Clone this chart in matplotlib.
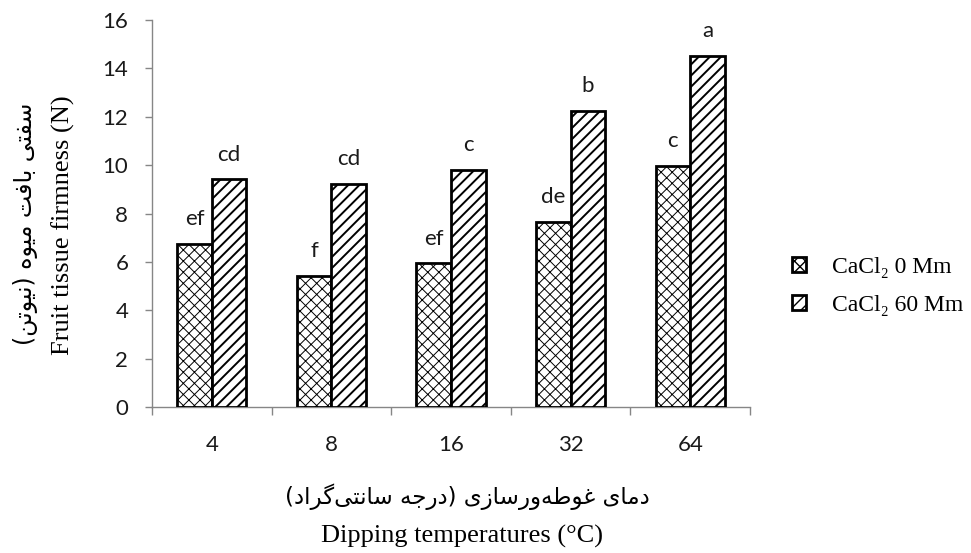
import numpy as np
import matplotlib
matplotlib.use("Agg")
import matplotlib.pyplot as plt
from matplotlib import font_manager
from matplotlib.ft2font import FT2Font


# Data.
temps = ["4", "8", "16", "32", "64"]
firm_0 = [6.73, 5.43, 5.94, 7.66, 9.96]
firm_60 = [9.41, 9.22, 9.80, 12.25, 14.52]
let_0 = ["ef", "f", "ef", "de", "c"]
let_60 = ["cd", "cd", "c", "b", "a"]
series_names = ["CaCl\u2082 0 Mm", "CaCl\u2082 60 Mm"]
ylabel_fa = "سفتی بافت میوه (نیوتن)"
ylabel_en = "Fruit tissue firmness (N)"
xlabel_fa = "دمای غوطه\u200cورسازی (درجه سانتی\u200cگراد)"
xlabel_en = "Dipping temperatures (\u00b0C)"


# Small Persian shaper: matplotlib has no Arabic shaping / bidi.
# forms: isolated, final, initial, medial (None = right-joining only)
FORMS = {
    "ا": ("\uFE8D", "\uFE8E", None, None),
    "ب": ("\uFE8F", "\uFE90", "\uFE91", "\uFE92"),
    "ت": ("\uFE95", "\uFE96", "\uFE97", "\uFE98"),
    "ج": ("\uFE9D", "\uFE9E", "\uFE9F", "\uFEA0"),
    "د": ("\uFEA9", "\uFEAA", None, None),
    "ر": ("\uFEAD", "\uFEAE", None, None),
    "ز": ("\uFEAF", "\uFEB0", None, None),
    "س": ("\uFEB1", "\uFEB2", "\uFEB3", "\uFEB4"),
    "ط": ("\uFEC1", "\uFEC2", "\uFEC3", "\uFEC4"),
    "غ": ("\uFECD", "\uFECE", "\uFECF", "\uFED0"),
    "ف": ("\uFED1", "\uFED2", "\uFED3", "\uFED4"),
    "م": ("\uFEE1", "\uFEE2", "\uFEE3", "\uFEE4"),
    "ن": ("\uFEE5", "\uFEE6", "\uFEE7", "\uFEE8"),
    "ه": ("\uFEE9", "\uFEEA", "\uFEEB", "\uFEEC"),
    "و": ("\uFEED", "\uFEEE", None, None),
    "ی": ("\uFBFC", "\uFBFD", "\uFBFE", "\uFBFF"),
    "گ": ("\uFB92", "\uFB93", "\uFB94", "\uFB95"),
}
FALLBACK = {"\uFBFC": "\uFEEF", "\uFBFD": "\uFEF0", "\uFBFE": "\uFEF3", "\uFBFF": "\uFEF4"}

fa_font = "DejaVu Sans"
cmap = FT2Font(font_manager.findfont(fa_font)).get_charmap()


def shape_fa(s):
    out = []
    for i, ch in enumerate(s):
        if ch not in FORMS:
            if ch != "\u200c":
                out.append(ch)
            continue
        prev = s[i - 1] if i > 0 else ""
        nxt = s[i + 1] if i + 1 < len(s) else ""
        dual = FORMS[ch][2] is not None
        jp = prev in FORMS and FORMS[prev][2] is not None
        jn = dual and nxt in FORMS
        if jp and jn:
            g = FORMS[ch][3]
        elif jp:
            g = FORMS[ch][1]
        elif jn:
            g = FORMS[ch][2]
        else:
            g = FORMS[ch][0]
        if ord(g) not in cmap and g in FALLBACK:
            g = FALLBACK[g]
        out.append(g)
    vis = "".join(reversed(out))
    return vis.replace("(", "\0").replace(")", "(").replace("\0", ")")


tick_font = "Lato"
serif = ["Liberation Serif", "DejaVu Serif"]
gray = "#868686"
txt = "#1a1a1a"

fig = plt.figure(figsize=(9.71, 5.53), dpi=100)
ax = fig.add_axes([0.1565, 0.264, 0.6159, 0.6998])

x = np.arange(len(temps))
w = 0.29
with plt.rc_context({"hatch.linewidth": 0.7}):
    b0 = ax.bar(x - w / 2, firm_0, w, color="white", edgecolor="black",
                linewidth=2, hatch="xxx", label=series_names[0], zorder=3)
with plt.rc_context({"hatch.linewidth": 1.4}):
    b1 = ax.bar(x + w / 2, firm_60, w, color="white", edgecolor="black",
                linewidth=2, hatch="///", label=series_names[1], zorder=3)
for bars, lw in ((b0, 0.7), (b1, 1.4)):
    for p in bars:
        if hasattr(p, "set_hatch_linewidth"):
            p.set_hatch_linewidth(lw)

for xs, vals, lets in ((x - w / 2, firm_0, let_0), (x + w / 2, firm_60, let_60)):
    for xi, v, t in zip(xs, vals, lets):
        ax.annotate(t, (xi, v), xytext=(0, 13.5), textcoords="offset points",
                    ha="center", va="baseline", fontsize=16,
                    family=tick_font, color=txt)

ax.set_xlim(-0.5, len(temps) - 0.5)
ax.set_ylim(0, 16)
ax.set_yticks(np.arange(0, 17, 2))
ax.set_yticklabels([str(v) for v in range(0, 17, 2)], fontsize=16,
                   family=tick_font, color=txt)
ax.tick_params(axis="y", length=5, width=1, color=gray, pad=12)

ax.set_xticks(np.arange(-0.5, len(temps), 1.0))
ax.set_xticklabels([])
ax.tick_params(axis="x", which="major", length=6, width=1, color=gray)
ax.set_xticks(x, minor=True)
ax.set_xticklabels(temps, minor=True, fontsize=16, family=tick_font, color=txt)
ax.tick_params(axis="x", which="minor", length=0, pad=20)

for s in ("top", "right"):
    ax.spines[s].set_visible(False)
for s in ("left", "bottom"):
    ax.spines[s].set_color(gray)
    ax.spines[s].set_linewidth(1)

fig.legend(handles=[b0, b1], loc="center left",
           bbox_to_anchor=(792 / 971, 1 - 286.5 / 553), frameon=False,
           prop={"family": serif, "size": 17}, handlelength=0.6,
           handleheight=0.6, handletextpad=1.1, labelspacing=0.7,
           borderpad=0, borderaxespad=0)

fig.text(25 / 971, 1 - 224 / 553, shape_fa(ylabel_fa), rotation=90,
         ha="center", va="center", fontsize=17, family=fa_font, color="black")
fig.text(63 / 971, 1 - 225 / 553, ylabel_en, rotation=90, ha="center",
         va="center", fontsize=19, family=serif, color="black")
fig.text(467 / 971, 1 - 497 / 553, shape_fa(xlabel_fa), ha="center",
         va="center", fontsize=16.5, family=fa_font, color="black")
fig.text(462 / 971, 1 - 536 / 553, xlabel_en, ha="center", va="center",
         fontsize=19, family=serif, color="black")

fig.savefig("out.png", dpi=100)
